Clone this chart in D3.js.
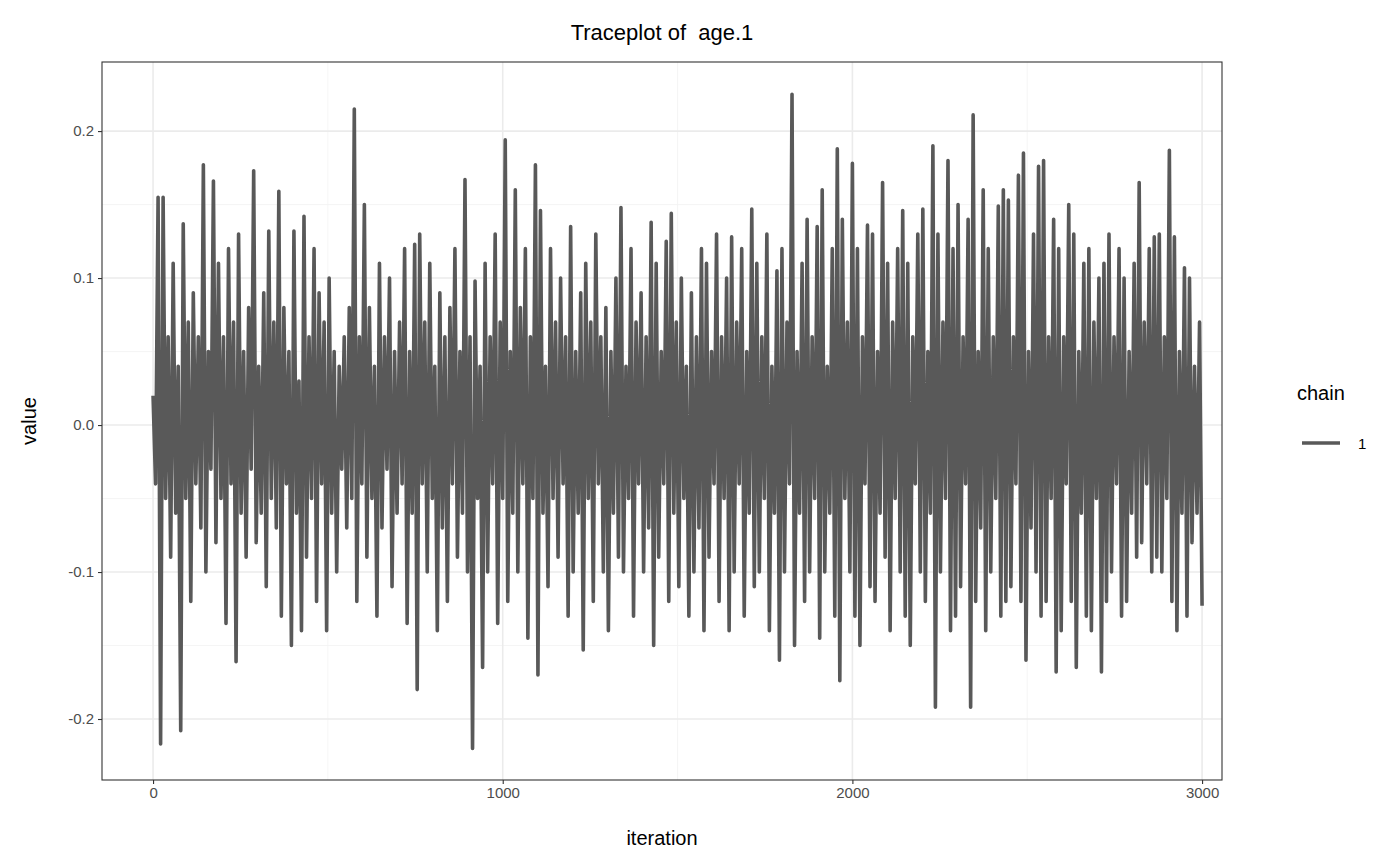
<!DOCTYPE html>
<html><head><meta charset="utf-8">
<script src="https://cdn.jsdelivr.net/npm/d3@7"></script>
<style>body{margin:0;background:#fff}svg{font-family:"Liberation Sans",Arial,sans-serif}</style>
</head><body><div id="chart"></div>
<script>
var title = "Traceplot of  age.1";
var chainName = "1";
var lastIter = 3000;
var values = [
0.02,-0.04,0.155,-0.217,0.155,-0.05,0.06,-0.09,0.11,-0.06,0.04,-0.208,0.137,-0.05,0.07,-0.12,0.09,-0.04,0.06,-0.07,
0.177,-0.1,0.05,-0.03,0.166,-0.08,0.11,-0.05,0.06,-0.135,0.12,-0.04,0.07,-0.161,0.13,-0.06,0.05,-0.09,0.08,-0.03,
0.173,-0.08,0.04,-0.06,0.09,-0.11,0.132,-0.05,0.07,-0.07,0.159,-0.13,0.08,-0.04,0.05,-0.15,0.132,-0.06,0.03,-0.14,
0.142,-0.09,0.06,-0.05,0.12,-0.12,0.09,-0.04,0.07,-0.14,0.1,-0.06,0.05,-0.1,0.04,-0.03,0.06,-0.07,0.08,-0.05,
0.215,-0.12,0.06,-0.04,0.15,-0.09,0.08,-0.05,0.04,-0.13,0.11,-0.07,0.06,-0.03,0.1,-0.11,0.05,-0.06,0.07,-0.04,
0.12,-0.135,0.05,-0.06,0.123,-0.18,0.13,-0.04,0.07,-0.1,0.11,-0.05,0.04,-0.14,0.09,-0.07,0.06,-0.12,0.08,-0.04,
0.12,-0.09,0.05,-0.06,0.167,-0.1,0.06,-0.22,0.098,-0.05,0.04,-0.165,0.11,-0.1,0.06,-0.04,0.13,-0.135,0.07,-0.05,
0.194,-0.12,0.05,-0.06,0.16,-0.1,0.08,-0.04,0.12,-0.145,0.06,-0.05,0.177,-0.17,0.146,-0.06,0.04,-0.11,0.12,-0.05,
0.07,-0.09,0.1,-0.04,0.06,-0.13,0.135,-0.1,0.05,-0.06,0.09,-0.153,0.11,-0.05,0.07,-0.12,0.13,-0.04,0.06,-0.1,
0.08,-0.14,0.05,-0.06,0.1,-0.09,0.148,-0.1,0.04,-0.05,0.12,-0.13,0.07,-0.04,0.09,-0.1,0.06,-0.07,0.138,-0.15,
0.11,-0.09,0.05,-0.04,0.125,-0.12,0.144,-0.06,0.07,-0.11,0.1,-0.05,0.04,-0.13,0.09,-0.1,0.06,-0.07,0.12,-0.14,
0.11,-0.09,0.05,-0.04,0.13,-0.12,0.06,-0.05,0.1,-0.14,0.128,-0.1,0.07,-0.04,0.12,-0.13,0.05,-0.06,0.147,-0.11,
0.11,-0.1,0.06,-0.05,0.13,-0.14,0.04,-0.06,0.105,-0.16,0.12,-0.1,0.07,-0.04,0.225,-0.15,0.05,-0.06,0.11,-0.12,
0.14,-0.1,0.06,-0.05,0.135,-0.145,0.16,-0.1,0.04,-0.06,0.12,-0.13,0.188,-0.174,0.14,-0.05,0.07,-0.1,0.178,-0.13,
0.12,-0.15,0.06,-0.04,0.136,-0.11,0.13,-0.12,0.05,-0.06,0.165,-0.09,0.11,-0.14,0.07,-0.05,0.12,-0.1,0.146,-0.13,
0.11,-0.15,0.06,-0.04,0.13,-0.1,0.147,-0.12,0.05,-0.06,0.19,-0.192,0.13,-0.1,0.07,-0.05,0.18,-0.14,0.12,-0.13,
0.15,-0.11,0.06,-0.04,0.14,-0.192,0.211,-0.12,0.05,-0.07,0.16,-0.14,0.12,-0.1,0.06,-0.05,0.149,-0.13,0.16,-0.12,
0.153,-0.11,0.06,-0.04,0.17,-0.12,0.185,-0.16,0.05,-0.07,0.13,-0.1,0.176,-0.13,0.18,-0.12,0.06,-0.05,0.14,-0.168,
0.12,-0.14,0.06,-0.04,0.15,-0.12,0.13,-0.165,0.05,-0.06,0.11,-0.13,0.12,-0.14,0.07,-0.05,0.1,-0.168,0.11,-0.12,
0.13,-0.1,0.06,-0.04,0.12,-0.13,0.1,-0.12,0.05,-0.06,0.11,-0.09,0.165,-0.08,0.07,-0.04,0.12,-0.1,0.128,-0.09,
0.13,-0.1,0.06,-0.05,0.187,-0.12,0.128,-0.14,0.05,-0.06,0.107,-0.13,0.1,-0.08,0.04,-0.06,0.07,-0.123
];
var xTicks = [0, 1000, 2000, 3000];
var xMinor = [500, 1500, 2500];
var yTicks = [-0.2, -0.1, 0, 0.1, 0.2];
var yMinor = [-0.15, -0.05, 0.05, 0.15];

var W = 1400, H = 866;
var L = 102, R = 1222, T = 62, B = 780;
var svg = d3.select('#chart').append('svg').attr('width', W).attr('height', H);

var x = d3.scaleLinear().domain([-146, 3057]).range([L, R]);
var y = d3.scaleLinear().domain([-0.2415, 0.247]).range([B, T]);
var step = lastIter / (values.length - 1);

var g = svg.append('g');
g.selectAll('.xm').data(xMinor).enter().append('line')
  .attr('x1', x).attr('x2', x).attr('y1', T).attr('y2', B)
  .attr('stroke', '#f3f3f3').attr('stroke-width', 0.8);
g.selectAll('.ym').data(yMinor).enter().append('line')
  .attr('y1', y).attr('y2', y).attr('x1', L).attr('x2', R)
  .attr('stroke', '#f3f3f3').attr('stroke-width', 0.8);
g.selectAll('.xg').data(xTicks).enter().append('line')
  .attr('x1', x).attr('x2', x).attr('y1', T).attr('y2', B)
  .attr('stroke', '#ebebeb').attr('stroke-width', 1.6);
g.selectAll('.yg').data(yTicks).enter().append('line')
  .attr('y1', y).attr('y2', y).attr('x1', L).attr('x2', R)
  .attr('stroke', '#ebebeb').attr('stroke-width', 1.6);

var line = d3.line()
  .x(function(d, i) { return x(i * step); })
  .y(function(d) { return y(d); });
svg.append('path').datum(values).attr('d', line)
  .attr('fill', 'none').attr('stroke', '#595959').attr('stroke-width', 3.6)
  .attr('stroke-linejoin', 'round');

svg.append('rect').attr('x', L).attr('y', T).attr('width', R - L).attr('height', B - T)
  .attr('fill', 'none').attr('stroke', '#333').attr('stroke-width', 1.1);

var xa = svg.append('g').attr('transform', 'translate(0,' + B + ')')
  .call(d3.axisBottom(x).tickValues(xTicks).tickSize(4).tickPadding(3).tickFormat(d3.format('d')));
var ya = svg.append('g').attr('transform', 'translate(' + L + ',0)')
  .call(d3.axisLeft(y).tickValues(yTicks).tickSize(4).tickPadding(4)
    .tickFormat(function(d) { return d3.format('.1f')(d).replace('\u2212', '-'); }));
[xa, ya].forEach(function(a) {
  a.select('.domain').remove();
  a.attr('font-size', null).attr('font-family', null);
  a.selectAll('line').attr('stroke', '#333').attr('stroke-width', 1.1);
  a.selectAll('text').attr('fill', '#4d4d4d').style('font-size', '15px');
});

svg.append('text').attr('x', (L + R) / 2).attr('y', 40).attr('text-anchor', 'middle')
  .style('font-size', '22px').style('white-space', 'pre').text(title);
svg.append('text').attr('x', (L + R) / 2).attr('y', 845).attr('text-anchor', 'middle')
  .style('font-size', '20px').text('iteration');
svg.append('text').attr('transform', 'translate(36,' + (T + B) / 2 + ') rotate(-90)')
  .attr('text-anchor', 'middle').style('font-size', '20px').text('value');

svg.append('text').attr('x', 1297).attr('y', 400).style('font-size', '20px').text('chain');
svg.append('line').attr('x1', 1302).attr('x2', 1340).attr('y1', 443).attr('y2', 443)
  .attr('stroke', '#595959').attr('stroke-width', 3.6);
svg.append('text').attr('x', 1358).attr('y', 449).style('font-size', '15px').text(chainName);
</script></body></html>
